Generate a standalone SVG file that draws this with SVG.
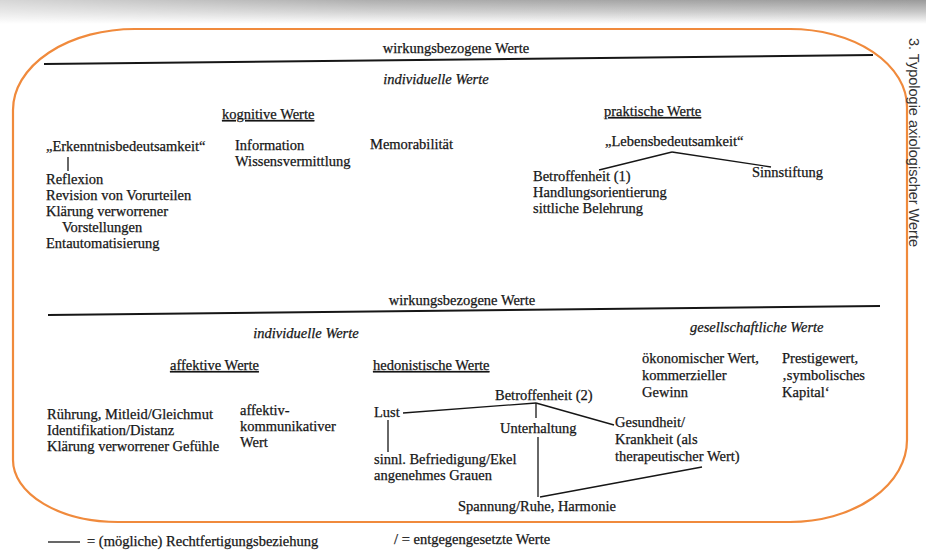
<svg xmlns="http://www.w3.org/2000/svg" width="926" height="556" viewBox="0 0 926 556">
<defs>
<linearGradient id="scan" x1="0" y1="0" x2="0" y2="1">
<stop offset="0" stop-color="#9a9a9a"/>
<stop offset="0.5" stop-color="#c8c8c8"/>
<stop offset="1" stop-color="#ffffff"/>
</linearGradient>
<linearGradient id="scanH" x1="0" y1="0" x2="1" y2="0">
<stop offset="0" stop-color="#ffffff" stop-opacity="0.6"/>
<stop offset="0.4" stop-color="#ffffff" stop-opacity="0.2"/>
<stop offset="1" stop-color="#ffffff" stop-opacity="0"/>
</linearGradient>
<style>
.t text{font-family:'Liberation Serif','DejaVu Serif',serif;font-size:14.5px;fill:#161616;stroke:#161616;stroke-width:0.25}
.t .it{font-style:italic}
.t .ul{text-decoration:underline}
.t .c{text-anchor:middle}
.ln{stroke:#161616;stroke-width:1.3;fill:none}
.rule{stroke:#161616;stroke-width:2;fill:none}
.frame{stroke:#f08a3c;stroke-width:2.2;fill:none}
.hdr{font-family:'Liberation Sans',Arial,sans-serif;font-size:14.5px;fill:#333}
</style>
</defs>
<rect width="926" height="556" fill="#ffffff"/>
<rect x="0" y="0" width="926" height="24" fill="url(#scan)"/>
<rect x="0" y="0" width="926" height="24" fill="url(#scanH)"/>

<path id="frame" class="frame" d="M135,29 H790 A117,78 0 0 1 907,107 V440 A117,82 0 0 1 790,522 H118 A105,62 0 0 1 13,460 V110 A122,81 0 0 1 135,29 Z"/>

<text class="hdr" transform="translate(909,38) rotate(90)">3. Typologie axiologischer Werte</text>

<g id="connectors">
<line class="rule" x1="44" y1="64" x2="873" y2="55"/>
<line class="rule" x1="48" y1="315" x2="880" y2="306"/>
<line class="ln" x1="68" y1="157" x2="68" y2="171"/>
<line class="ln" x1="672" y1="152" x2="599" y2="170"/>
<line class="ln" x1="672" y1="152" x2="771" y2="167"/>
<line class="ln" x1="403" y1="413" x2="536" y2="403"/>
<line class="ln" x1="536" y1="403" x2="536" y2="418"/>
<line class="ln" x1="536" y1="403" x2="614" y2="425"/>
<line class="ln" x1="388" y1="420" x2="388" y2="452"/>
<line class="ln" x1="538" y1="437" x2="538" y2="497"/>
<line class="ln" x1="540" y1="497" x2="702" y2="467"/>
</g>

<g class="t">
<g id="top-title"><text class="c" x="456" y="53">wirkungsbezogene Werte</text></g>
<g id="top-individuelle"><text class="it c" x="436" y="84">individuelle Werte</text></g>
<g id="kognitive"><text class="ul" x="222" y="119">kognitive Werte</text></g>
<g id="praktische"><text class="ul" x="604" y="116">praktische Werte</text></g>
<g id="erkenntnis"><text x="46" y="151">„Erkenntnisbedeutsamkeit“</text></g>
<g id="erkenntnis-list">
<text x="46" y="184">Reflexion</text>
<text x="46" y="200">Revision von Vorurteilen</text>
<text x="46" y="216">Klärung verworrener</text>
<text x="62" y="232">Vorstellungen</text>
<text x="46" y="248">Entautomatisierung</text>
</g>
<g id="information">
<text x="235" y="150">Information</text>
<text x="235" y="166">Wissensvermittlung</text>
</g>
<g id="memorabilitaet"><text x="370" y="149">Memorabilität</text></g>
<g id="lebens"><text x="605" y="146">„Lebensbedeutsamkeit“</text></g>
<g id="betroffenheit1">
<text x="533" y="181">Betroffenheit (1)</text>
<text x="533" y="197">Handlungsorientierung</text>
<text x="533" y="213">sittliche Belehrung</text>
</g>
<g id="sinnstiftung"><text x="752" y="177">Sinnstiftung</text></g>

<g id="bottom-title"><text class="c" x="462" y="305">wirkungsbezogene Werte</text></g>
<g id="bottom-individuelle"><text class="it c" x="306" y="338">individuelle Werte</text></g>
<g id="gesellschaftliche"><text class="it" x="690" y="332">gesellschaftliche Werte</text></g>
<g id="affektive"><text class="ul" x="170" y="370">affektive Werte</text></g>
<g id="hedonistische"><text class="ul" x="373" y="370">hedonistische Werte</text></g>
<g id="oekonomisch">
<text x="642" y="363">ökonomischer Wert,</text>
<text x="642" y="380">kommerzieller</text>
<text x="642" y="397">Gewinn</text>
</g>
<g id="prestige">
<text x="782" y="363">Prestigewert,</text>
<text x="782" y="380">‚symbolisches</text>
<text x="782" y="397">Kapital‘</text>
</g>
<g id="affekt-list">
<text x="47" y="419">Rührung, Mitleid/Gleichmut</text>
<text x="47" y="435">Identifikation/Distanz</text>
<text x="47" y="451">Klärung verworrener Gefühle</text>
</g>
<g id="affektiv-komm">
<text x="240" y="415">affektiv-</text>
<text x="240" y="431">kommunikativer</text>
<text x="240" y="447">Wert</text>
</g>
<g id="betroffenheit2"><text x="495" y="400">Betroffenheit (2)</text></g>
<g id="lust"><text x="374" y="417">Lust</text></g>
<g id="unterhaltung"><text x="500" y="433">Unterhaltung</text></g>
<g id="gesundheit">
<text x="615" y="427">Gesundheit/</text>
<text x="615" y="444">Krankheit (als</text>
<text x="615" y="461">therapeutischer Wert)</text>
</g>
<g id="sinnl">
<text x="374" y="464">sinnl. Befriedigung/Ekel</text>
<text x="374" y="480">angenehmes Grauen</text>
</g>
<g id="spannung"><text x="458" y="511">Spannung/Ruhe, Harmonie</text></g>

<g id="legend">
<line class="ln" x1="48" y1="542" x2="80" y2="542"/>
<text x="87" y="546">= (mögliche) Rechtfertigungsbeziehung</text>
<text x="394" y="544">/ = entgegengesetzte Werte</text>
</g>
</g>
</svg>
